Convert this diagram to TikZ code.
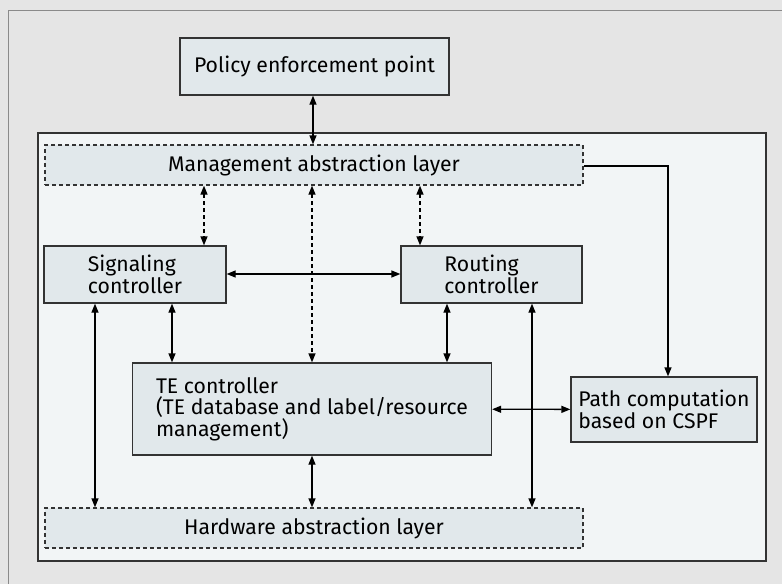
\documentclass[tikz,border=0pt]{standalone}
\usepackage{fontspec}
\setmainfont{Fira Sans}
\usetikzlibrary{arrows.meta}

\definecolor{outergray}{HTML}{E5E5E5}
\definecolor{framegray}{HTML}{8A8A8A}
\definecolor{panelfill}{HTML}{F2F5F6}
\definecolor{boxfill}{HTML}{E1E8EB}

\begin{document}
\begin{tikzpicture}[> = {Triangle[length=9pt, width=7pt]}, % arrow head style
                x = 1pt, y = -1pt, % reference pixels, y pointing down
                line width = 1.3pt % line style
            ]

            \tikzstyle{every node}=[font=\fontsize{21.2}{21.5}\selectfont, align=left]
            \tikzstyle{box}=[draw = black!80, fill = boxfill, inner sep = 0pt]
            \tikzstyle{layer}=[box, dash pattern = on 4pt off 3pt]

            \useasboundingbox (0,0) rectangle (782,584);
            \fill[outergray] (0,0) rectangle (782,584);
            \draw[framegray, line width = 1pt] (782,10) -- (8,10) -- (8,584);
            \draw[panelfill, fill = panelfill] (38,133) rectangle (766,561);
            \draw[black!80] (38,133) rectangle (766,561);

            \node (pep) [box, minimum width = 269, minimum height = 57] at (314.5,66.5)
                {Policy enforcement point};
            \node (mal) [layer, minimum width = 538, minimum height = 40] at (314,165)
                {Management abstraction layer};
            \node (sig) [box, minimum width = 182, minimum height = 57] at (135,274.5)
                {Signaling\\controller};
            \node (rout) [box, minimum width = 181, minimum height = 57] at (491.5,274.5)
                {Routing\\controller};
            \node (te) [box, minimum width = 359, minimum height = 92] at (312,409)
                {TE controller\\(TE database and label/resource\\management)};
            \node (cspf) [box, minimum width = 186, minimum height = 65] at (664,409.5)
                {Path computation\\based on CSPF};
            \node (hal) [layer, minimum width = 538, minimum height = 40] at (314,528)
                {Hardware abstraction layer};

            \path[<->] ([xshift=-1.5]pep.south) edge ([xshift=-1.5]pep.south |-
            mal.north); \path[<->] ([yshift=0.5]sig.east) edge
            ([yshift=0.5]rout.west); \path[<->] (te) edge (cspf); \path[<->]
            (te) edge (te.south |- hal.north);

            \path[<->, dash pattern = on 4pt off 3pt] ([xshift=69]sig.north |-
            mal.south) edge ([xshift=69]sig.north); \path[<->, dash pattern = on
            4pt off 3pt] (te.north |- mal.south) edge (te.north); \path[<->, dash
            pattern = on 4pt off 3pt] ([xshift=-71.5]rout.north |- mal.south) edge
            ([xshift=-71.5]rout.north);

            \path[<->] ([xshift=37]sig.south) edge ([xshift=37]sig.south |-
            te.north); \path[<->] ([xshift=-44.5]rout.south) edge
            ([xshift=-44.5]rout.south |- te.north); \path[<->]
            ([xshift=-40]sig.south) edge ([xshift=-40]sig.south |- hal.north);
            \path[<->] ([xshift=40.5]rout.south) edge ([xshift=40.5]rout.south |-
            hal.north);

            \draw[->] ([yshift=-1]mal.east) -| ([xshift=4]cspf.north);
        \end{tikzpicture}
\end{document}
